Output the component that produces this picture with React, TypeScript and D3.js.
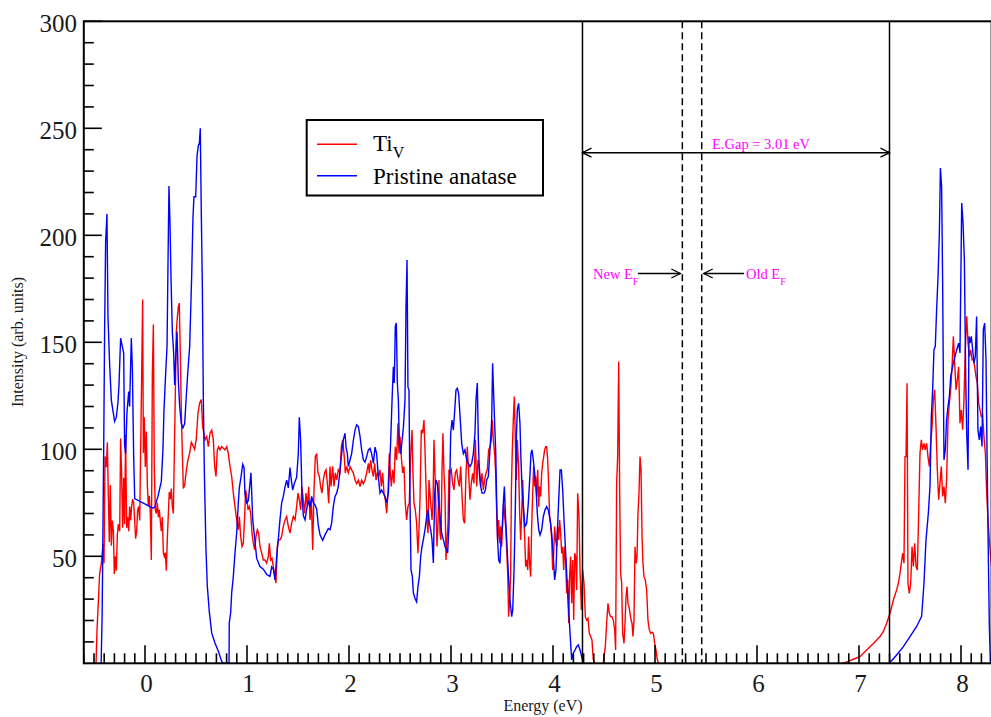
import React from "react";
import * as d3 from "d3";

// Density of states: Ti vacancy (Ti_V) vs. pristine anatase, energy in eV
type Pt = [number, number];

const tiVValence: Pt[] = [
  [-0.48, 0], [-0.471, 15], [-0.458, 28], [-0.445, 41.7], [-0.428, 46.7], [-0.412, 55.8], [-0.402, 46.7],
  [-0.392, 96.7], [-0.379, 91.7], [-0.369, 103.3], [-0.36, 80], [-0.35, 56.7], [-0.34, 83.3], [-0.33, 55],
  [-0.32, 66.7], [-0.31, 61.7], [-0.301, 41.7], [-0.291, 50], [-0.281, 43.3], [-0.271, 60], [-0.262, 65],
  [-0.248, 61.7], [-0.239, 105], [-0.229, 88.3], [-0.219, 63.3], [-0.209, 86.7], [-0.2, 65], [-0.19, 106.7],
  [-0.18, 63.3], [-0.17, 68.3], [-0.16, 61.7], [-0.15, 73.3], [-0.141, 66.7], [-0.131, 73.3], [-0.121, 76.7],
  [-0.111, 75], [-0.101, 66.7], [-0.092, 58.3], [-0.082, 61.7], [-0.072, 71.7], [-0.062, 73.3], [-0.052, 66.7],
  [-0.043, 98.3], [-0.033, 133.3], [-0.023, 170], [-0.016, 98.3], [-0.007, 115], [0.003, 91.7], [0.013, 108.3],
  [0.023, 83.3], [0.033, 73.3], [0.042, 78.3], [0.052, 70], [0.062, 48.3], [0.072, 135], [0.082, 158.3],
  [0.091, 91.7], [0.101, 71.7], [0.111, 70], [0.121, 75], [0.131, 68.3], [0.14, 71.7], [0.15, 66.7],
  [0.16, 61.7], [0.17, 68.3], [0.18, 51.7], [0.189, 50], [0.199, 51.7], [0.209, 43.3], [0.219, 58.3],
  [0.229, 70], [0.238, 80], [0.248, 76.7], [0.258, 81.7], [0.268, 73.3], [0.278, 70], [0.287, 96.7],
  [0.297, 125], [0.307, 155], [0.317, 161.7], [0.327, 166.7], [0.336, 168.3], [0.346, 145], [0.356, 118.3],
  [0.366, 98.3], [0.376, 81.7], [0.389, 83.3], [0.405, 90], [0.421, 95], [0.438, 98.3], [0.454, 103.3],
  [0.47, 101.7], [0.487, 100], [0.503, 105], [0.519, 116.7], [0.536, 121.7], [0.552, 123.3], [0.565, 110.6],
  [0.578, 107.5], [0.588, 104.4], [0.605, 106], [0.621, 101.2], [0.637, 107.5], [0.654, 109], [0.67, 104.4],
  [0.683, 92], [0.696, 87.3], [0.709, 99.7], [0.722, 101.2], [0.735, 99.7], [0.752, 101.2], [0.768, 100.5],
  [0.784, 99.7], [0.801, 101.2], [0.817, 98], [0.833, 92], [0.85, 87.3], [0.866, 79.5], [0.882, 73.3],
  [0.899, 67], [0.915, 62.4], [0.925, 68.6], [0.938, 59.3], [0.951, 54.6], [0.964, 56.1], [0.977, 68.6],
  [0.987, 81], [0.997, 78], [1.01, 71.7], [1.023, 73.3], [1.036, 70.1], [1.049, 60.8], [1.062, 56.1],
  [1.075, 53], [1.088, 59.3], [1.101, 62.4], [1.114, 60.8], [1.127, 54.6], [1.144, 51.5], [1.16, 48.3],
  [1.176, 48.3], [1.193, 46.8], [1.209, 49.9], [1.219, 56.1], [1.232, 48.3], [1.245, 49], [1.258, 45.2],
  [1.275, 40.6], [1.284, 37.5], [1.297, 54.6], [1.31, 57.7], [1.324, 57.7], [1.34, 59.3], [1.356, 64],
  [1.373, 67], [1.389, 68.6], [1.405, 64], [1.422, 60.8], [1.438, 65.5], [1.454, 68.6], [1.471, 67],
  [1.487, 73.3], [1.5, 79.5], [1.513, 76.4], [1.526, 71.7], [1.539, 82.5], [1.552, 76.4], [1.565, 70.1],
  [1.578, 79.5], [1.591, 73.3], [1.605, 82.5], [1.618, 67], [1.631, 76.4], [1.644, 53], [1.657, 81],
  [1.67, 96.6], [1.683, 98], [1.696, 89], [1.709, 87.3], [1.722, 82.5], [1.735, 79.5], [1.748, 85.6],
  [1.761, 89], [1.775, 90.4], [1.788, 84], [1.801, 74.8], [1.814, 92], [1.824, 82.6], [1.84, 92],
  [1.853, 82.6], [1.866, 89], [1.879, 85.6], [1.895, 90.4], [1.912, 89], [1.925, 101.2], [1.938, 104.4],
  [1.951, 98], [1.964, 89], [1.977, 92], [1.993, 89], [2.01, 92], [2.026, 90.4], [2.042, 89],
  [2.059, 85.6], [2.075, 84], [2.092, 85.6], [2.108, 82.6], [2.124, 85.6], [2.141, 84], [2.157, 85.6],
  [2.173, 89], [2.19, 93.4], [2.199, 89], [2.212, 95], [2.225, 90.4], [2.239, 87.3], [2.252, 93.4],
  [2.265, 85.6], [2.278, 89], [2.291, 87.3], [2.304, 90.4], [2.317, 82.6], [2.33, 89], [2.343, 79.5],
  [2.356, 76.4], [2.369, 70.1], [2.382, 79.5], [2.395, 98], [2.405, 89], [2.415, 82.6], [2.428, 90.4],
  [2.441, 84], [2.454, 101.2], [2.467, 95], [2.48, 112.2], [2.49, 98], [2.5, 106], [2.513, 96.4],
  [2.526, 89], [2.539, 92], [2.552, 74.8], [2.565, 67], [2.578, 73.2], [2.591, 74.8], [2.604, 96.4],
  [2.618, 109], [2.627, 89], [2.637, 74.8], [2.65, 71.7], [2.663, 65.5], [2.676, 51.4], [2.686, 62.4],
  [2.696, 76.4], [2.709, 109], [2.722, 107.5], [2.735, 113.7], [2.745, 99.7], [2.755, 82.6], [2.765, 65.5],
  [2.775, 60.8], [2.784, 85.7], [2.794, 79.5], [2.804, 73.2], [2.814, 67], [2.824, 76.4], [2.833, 104.4],
  [2.843, 89], [2.853, 70.1], [2.863, 54.6], [2.873, 65.5], [2.882, 85.7], [2.892, 60.8], [2.902, 57.7],
  [2.912, 90.4], [2.921, 107.5], [2.931, 89], [2.941, 79.5], [2.951, 48.3], [2.961, 57.7], [2.971, 65.5],
  [2.98, 90.4], [2.99, 89], [3.003, 90.4], [3.016, 84], [3.029, 81], [3.042, 89], [3.056, 90.4],
  [3.069, 85.7], [3.082, 82.6], [3.095, 92], [3.108, 78], [3.121, 67], [3.134, 65.4], [3.147, 88.8],
  [3.16, 101.2], [3.173, 88.8], [3.186, 76.4], [3.199, 84.1], [3.212, 88.8], [3.225, 84.1], [3.239, 104.4],
  [3.252, 82.6], [3.265, 95], [3.278, 91.9], [3.291, 82.6], [3.304, 88.8], [3.317, 81], [3.33, 85.7],
  [3.343, 88.8], [3.356, 90.4], [3.369, 99.7], [3.382, 101.2], [3.395, 104.4], [3.405, 113.8], [3.415, 104.4],
  [3.428, 98], [3.438, 88.8], [3.448, 70.1], [3.457, 57.6], [3.467, 67], [3.477, 56.1], [3.487, 63.9],
  [3.497, 54.6], [3.506, 65.4], [3.516, 74.8], [3.526, 68.5], [3.536, 63.9], [3.546, 53], [3.556, 42.1],
  [3.565, 21.8], [3.575, 29.6], [3.585, 42.1], [3.592, 81], [3.601, 99.7], [3.611, 113.8], [3.621, 124.7],
  [3.631, 104.4], [3.641, 85.7], [3.65, 104.4], [3.663, 91.9], [3.673, 70.1], [3.683, 57.6], [3.693, 70.1],
  [3.703, 85.7], [3.712, 70.1], [3.722, 59.2], [3.732, 45.2], [3.742, 48.3], [3.752, 43.6], [3.761, 59.2],
  [3.771, 46.7], [3.781, 40.5], [3.791, 63.9], [3.8, 77.9], [3.81, 91.9], [3.82, 82.6], [3.83, 87.3],
  [3.84, 77.9], [3.85, 90.4], [3.86, 73.2], [3.869, 82.6], [3.879, 77.9], [3.889, 88.8], [3.899, 93.5],
  [3.909, 96.6], [3.918, 99.7], [3.928, 101.2], [3.938, 101.2], [3.948, 95], [3.958, 82.6], [3.967, 68.5],
  [3.977, 65.4], [3.987, 57.6], [3.997, 43.6], [4.007, 51.4], [4.016, 63.9], [4.026, 57.6], [4.036, 54.5],
  [4.046, 63.9], [4.056, 57.6], [4.065, 67], [4.075, 60.8], [4.085, 51.4], [4.095, 54.5], [4.105, 43.6],
  [4.114, 54.5], [4.124, 48.3], [4.134, 32.7], [4.144, 39], [4.154, 18.7], [4.163, 40.5], [4.173, 49.9],
  [4.183, 28.1], [4.193, 48.3], [4.203, 20.2], [4.212, 51.4], [4.222, 49.9], [4.232, 34.3], [4.242, 79.5],
  [4.255, 68.5], [4.265, 43.6], [4.278, 24.9], [4.291, 43.6], [4.304, 37.4], [4.317, 21.8], [4.33, 20.2],
  [4.343, 21], [4.356, 14], [4.369, 12.5], [4.382, 10.9], [4.395, 1.6], [4.412, 0],
];

// Defect states inside the gap
const tiVDefect: Pt[] = [
  [4.493, 0], [4.5, 3.1], [4.513, 7.8], [4.526, 18.7], [4.539, 28], [4.552, 23.4], [4.565, 21.8],
  [4.578, 21.8], [4.591, 20.2], [4.605, 15.6], [4.614, 6.2], [4.624, 84.1], [4.634, 96.6], [4.644, 141],
  [4.654, 77.9], [4.663, 42.1], [4.673, 37.4], [4.683, 14], [4.696, 9.3], [4.706, 18.7], [4.716, 31.2],
  [4.726, 35.8], [4.735, 28], [4.745, 26.5], [4.755, 23.4], [4.765, 20.2], [4.775, 18.7], [4.784, 12.5],
  [4.794, 20.2], [4.804, 54.5], [4.814, 46.7], [4.824, 49.9], [4.833, 70.1], [4.843, 79.5], [4.853, 96.6],
  [4.863, 90.4], [4.873, 59.2], [4.882, 46.7], [4.892, 40.5], [4.905, 38.9], [4.918, 34.3], [4.931, 20.2],
  [4.944, 15.6], [4.958, 14], [4.971, 14.5], [4.984, 14], [4.997, 9.3], [5.01, 6.2], [5.023, 1.6], [5.036, 0],
];

const tiVConduction: Pt[] = [
  [6.84, 0], [6.9, 1], [6.95, 2], [7.01, 3.1], [7.075, 6.2], [7.141, 9.3], [7.206, 12.5], [7.239, 14.9],
  [7.271, 18.7], [7.304, 23.4], [7.337, 29.6], [7.369, 34.3], [7.386, 37.4], [7.402, 42.1], [7.415, 46.8],
  [7.428, 51.4], [7.441, 46.8], [7.451, 96.6], [7.461, 96.6], [7.471, 130.9], [7.48, 37.4], [7.493, 32.7],
  [7.507, 37.4], [7.52, 54.5], [7.533, 45.2], [7.546, 56.1], [7.559, 45.2], [7.572, 43.6], [7.585, 70.1],
  [7.598, 98.1], [7.611, 104.4], [7.624, 99.7], [7.637, 102.8], [7.65, 99.7], [7.663, 102.8], [7.676, 96.6],
  [7.69, 92], [7.703, 102.8], [7.716, 110.6], [7.729, 123], [7.742, 127.8], [7.755, 110.6], [7.768, 90.4],
  [7.781, 76.4], [7.794, 84.1], [7.807, 92], [7.82, 78], [7.833, 82.6], [7.846, 74.8], [7.859, 85.7],
  [7.873, 113.8], [7.886, 121.5], [7.899, 127.8], [7.912, 138.6], [7.925, 152.8], [7.938, 140.3],
  [7.951, 127.8], [7.964, 132.4], [7.977, 138.6], [7.99, 112.2], [8.003, 118.4], [8.016, 109.1],
  [8.029, 123], [8.042, 146.5], [8.056, 162.1], [8.069, 149.6], [8.082, 143.4], [8.095, 146.5],
  [8.108, 141.8], [8.121, 142], [8.134, 138.6], [8.147, 134], [8.16, 130.9], [8.173, 121.5], [8.186, 118.4],
  [8.199, 115.3], [8.212, 116], [8.225, 106], [8.239, 98.1], [8.252, 79.4], [8.265, 66.9], [8.278, 57.6],
  [8.288, 51.4], [8.3, 45],
];

const anataseValence: Pt[] = [
  [-0.43, 0], [-0.42, 23], [-0.405, 100], [-0.396, 155], [-0.386, 197], [-0.373, 210], [-0.363, 162],
  [-0.347, 140], [-0.33, 123], [-0.314, 118], [-0.298, 113], [-0.281, 115], [-0.265, 122], [-0.255, 130],
  [-0.239, 152], [-0.222, 148], [-0.209, 145], [-0.2, 102], [-0.19, 98], [-0.177, 117], [-0.16, 127],
  [-0.151, 120], [-0.134, 152], [-0.124, 138], [-0.111, 97], [-0.101, 77], [0.078, 72.5], [0.095, 73],
  [0.127, 78], [0.16, 85], [0.176, 100], [0.186, 118], [0.202, 135], [0.216, 148], [0.225, 185],
  [0.235, 223], [0.245, 206], [0.255, 180], [0.268, 155], [0.281, 145], [0.291, 130], [0.3, 142],
  [0.314, 155], [0.327, 132], [0.34, 120], [0.356, 112], [0.372, 110], [0.389, 112], [0.405, 125],
  [0.421, 137], [0.438, 148], [0.448, 165], [0.457, 180], [0.47, 208], [0.48, 218], [0.497, 218],
  [0.51, 237], [0.523, 242], [0.533, 243], [0.542, 250], [0.552, 210], [0.562, 177], [0.572, 123],
  [0.582, 89], [0.598, 53], [0.611, 36], [0.631, 23.8], [0.654, 14.2], [0.686, 9.5], [0.719, 5.6],
  [0.752, 0.9], [0.768, 0], [0.824, 0], [0.826, 18.7], [0.84, 23.8], [0.85, 33], [0.866, 40.6],
  [0.882, 51.6], [0.899, 61], [0.915, 75], [0.925, 82], [0.941, 87], [0.958, 93], [0.971, 91.5],
  [0.98, 79], [0.997, 75], [1.013, 76], [1.029, 84], [1.039, 89], [1.056, 67], [1.072, 60], [1.095, 49],
  [1.127, 45.2], [1.16, 44], [1.193, 41.5], [1.225, 40.6], [1.242, 45], [1.258, 44], [1.275, 39],
  [1.291, 50], [1.307, 58], [1.324, 67.5], [1.34, 75], [1.356, 78], [1.373, 82.5], [1.389, 85.6],
  [1.405, 82], [1.422, 91.5], [1.431, 87], [1.448, 81], [1.464, 84], [1.487, 87], [1.503, 98],
  [1.513, 115], [1.526, 104], [1.539, 79], [1.552, 69], [1.569, 67], [1.585, 72], [1.601, 76],
  [1.618, 73], [1.634, 78], [1.65, 75], [1.667, 74], [1.683, 72], [1.699, 64.5], [1.716, 60],
  [1.742, 57.5], [1.765, 60], [1.797, 63], [1.814, 62.4], [1.83, 65.5], [1.846, 73.2], [1.863, 78],
  [1.879, 79.5], [1.895, 82.6], [1.912, 90.4], [1.928, 98], [1.944, 104.4], [1.961, 107.5], [1.971, 101],
  [1.984, 98], [1.993, 92], [2.01, 95], [2.026, 98], [2.042, 104], [2.059, 109], [2.075, 111.4],
  [2.092, 110.6], [2.108, 106], [2.124, 99.7], [2.141, 95], [2.157, 94], [2.173, 96.6], [2.19, 99.7],
  [2.206, 100.5], [2.222, 98], [2.239, 93.4], [2.255, 101], [2.271, 98], [2.288, 87], [2.304, 79.5],
  [2.32, 81], [2.337, 79.5], [2.353, 78], [2.369, 75], [2.386, 79.5], [2.395, 90], [2.408, 102.8],
  [2.422, 123], [2.435, 138.6], [2.444, 131], [2.454, 157.4], [2.464, 159], [2.474, 131], [2.484, 123],
  [2.493, 104], [2.507, 98], [2.52, 104], [2.533, 110], [2.549, 123], [2.559, 166.7], [2.569, 188.5],
  [2.578, 129], [2.588, 127.7], [2.598, 76], [2.608, 43.6], [2.621, 40.6], [2.631, 33], [2.647, 30.3],
  [2.663, 28.7], [2.676, 35.8], [2.69, 40.6], [2.703, 49.9], [2.716, 54.6], [2.729, 57.8], [2.745, 62.4],
  [2.761, 68.6], [2.775, 71.7], [2.788, 65.5], [2.801, 62.4], [2.814, 57.8], [2.827, 46.9], [2.84, 79.5],
  [2.853, 85.7], [2.866, 84], [2.879, 75], [2.892, 68.6], [2.908, 60.9], [2.925, 57.8], [2.941, 54.6],
  [2.958, 53], [2.967, 51.5], [2.98, 64], [2.997, 107.5], [3.01, 113.7], [3.023, 109], [3.039, 120],
  [3.049, 127.7], [3.062, 128.5], [3.075, 126], [3.105, 102.8], [3.121, 98], [3.137, 99.7], [3.154, 95],
  [3.17, 93.5], [3.186, 91.9], [3.203, 93.5], [3.219, 98], [3.235, 107.5], [3.245, 123], [3.258, 131],
  [3.268, 104.4], [3.278, 88.8], [3.291, 82.6], [3.304, 79.5], [3.324, 79.5], [3.337, 81], [3.35, 85.7],
  [3.366, 87.3], [3.382, 99.7], [3.399, 113.7], [3.408, 140.2], [3.418, 126], [3.428, 112], [3.438, 99.7],
  [3.448, 74.8], [3.457, 57.6], [3.467, 48.3], [3.48, 46.7], [3.49, 57.6], [3.503, 63.9], [3.513, 74.8],
  [3.523, 82.6], [3.533, 70.1], [3.546, 57.6], [3.562, 42.1], [3.578, 29.6], [3.595, 21.8], [3.605, 24.9],
  [3.618, 43.6], [3.631, 73.2], [3.641, 105.9], [3.65, 118.4], [3.663, 121.5], [3.676, 112.2], [3.686, 95],
  [3.696, 82.6], [3.709, 73.2], [3.725, 63.9], [3.742, 65.4], [3.758, 74.8], [3.775, 88.8], [3.784, 98],
  [3.794, 99.7], [3.807, 95], [3.82, 88.8], [3.833, 82.6], [3.846, 70.1], [3.86, 62.4], [3.873, 60],
  [3.889, 62.4], [3.905, 68.5], [3.922, 71.7], [3.938, 73.2], [3.954, 71.7], [3.971, 67], [3.987, 60.8],
  [4.003, 49.9], [4.016, 39], [4.029, 43.6], [4.042, 60.8], [4.056, 76.4], [4.069, 90.4], [4.082, 90.4],
  [4.095, 81], [4.108, 67], [4.121, 54.6], [4.134, 42.1], [4.15, 28.1], [4.167, 14.1], [4.183, 1.6],
  [4.199, 4.7], [4.216, 6.2], [4.232, 7.8], [4.248, 8.6], [4.265, 6.2], [4.281, 3.1], [4.297, 0],
];

const anataseConduction: Pt[] = [
  [7.297, 0], [7.369, 3.9], [7.435, 7.8], [7.5, 12.5], [7.565, 17.2], [7.614, 21.9], [7.637, 37.4],
  [7.657, 57.7], [7.68, 70.2], [7.696, 82.6], [7.709, 115.3], [7.722, 127.8], [7.735, 146.5], [7.748, 148.1],
  [7.761, 165.2], [7.775, 180.8], [7.788, 201], [7.798, 231.4], [7.81, 222.8], [7.82, 177.7], [7.833, 95.1],
  [7.846, 99.8], [7.859, 113.8], [7.873, 120.1], [7.886, 124.7], [7.899, 134], [7.912, 137.2], [7.925, 140.3],
  [7.941, 143.4], [7.958, 146.5], [7.977, 149.6], [7.99, 145], [8.007, 215.1], [8.02, 205.7], [8.033, 188.6],
  [8.046, 134], [8.056, 107.5], [8.069, 90.4], [8.078, 152.8], [8.088, 149.6], [8.101, 152.8], [8.114, 146.5],
  [8.127, 140.3], [8.14, 143.4], [8.153, 162.1], [8.166, 109.1], [8.18, 104.4], [8.193, 110.6], [8.206, 101.3],
  [8.219, 156], [8.232, 159], [8.245, 141.8], [8.255, 99.8], [8.268, 49.9], [8.278, 17.2], [8.288, 0],
];

const xTickValues = [0, 1, 2, 3, 4, 5, 6, 7, 8];
const yTickValues = [50, 100, 150, 200, 250, 300];
const seriesNames = ["Ti", "Pristine anatase"];

// Band-edge annotations (eV)
const gapCenter = 5.794;
const gapWidth = 3.01;
const newFermi = 5.268;
const oldFermi = 5.458;

const RED = "#ff0000";
const BLUE = "#0000ff";
const MAGENTA = "#ff00ff";
const SERIF = "'Liberation Serif', 'Times New Roman', serif";

export default function App() {
  const width = 991;
  const height = 717;
  const x = d3.scaleLinear().domain([-0.6, 8.3]).range([83.8, 991.6]);
  const y = d3.scaleLinear().domain([0, 300]).range([663.3, 21.3]);
  const [x0, x1] = x.range();
  const [yb, yt] = y.range();

  const line = d3
    .line<Pt>()
    .x((d) => x(d[0]))
    .y((d) => y(d[1]));

  const xMinor = d3.range(-6, 84).map((i) => i / 10).filter((v) => Math.abs(v - Math.round(v)) > 1e-6);
  const yMinor = d3.range(1, 30).map((i) => i * 10).filter((v) => v % 50 !== 0);

  const gapLo = gapCenter - gapWidth / 2;
  const gapHi = gapCenter + gapWidth / 2;
  const gapY = 152.7;
  const fermiY = 273.5;

  const head = (tx: number, ty: number, dir: 1 | -1) =>
    `M${tx - dir * 9},${ty - 4.5}L${tx},${ty}L${tx - dir * 9},${ty + 4.5}`;

  return (
    <svg
      width={width}
      height={height}
      viewBox={`0 0 ${width} ${height}`}
      style={{ position: "absolute", left: 0, top: 0, background: "#fff" }}
    >
      <defs>
        <clipPath id="plot-area">
          <rect x={x0} y={yt} width={x1 - x0} height={yb - yt} />
        </clipPath>
      </defs>
      <rect x={0} y={0} width={width} height={height} fill="#fff" />

      <g clipPath="url(#plot-area)" fill="none" strokeWidth={1.4} strokeLinejoin="miter">
        {[tiVValence, tiVDefect, tiVConduction].map((s, i) => (
          <path key={`r${i}`} d={line(s) || ""} stroke={RED} />
        ))}
        {[anataseValence, anataseConduction].map((s, i) => (
          <path key={`b${i}`} d={line(s) || ""} stroke={BLUE} />
        ))}
      </g>

      {/* band edges and Fermi levels */}
      <g stroke="#000" fill="none">
        <line x1={x(gapLo)} x2={x(gapLo)} y1={yt} y2={yb} strokeWidth={1.5} />
        <line x1={x(gapHi)} x2={x(gapHi)} y1={yt} y2={yb} strokeWidth={1.5} />
        <line x1={x(newFermi)} x2={x(newFermi)} y1={yt} y2={yb} strokeWidth={1.5} strokeDasharray="7,4" />
        <line x1={x(oldFermi)} x2={x(oldFermi)} y1={yt} y2={yb} strokeWidth={1.5} strokeDasharray="7,4" />
        <line x1={x(gapLo)} x2={x(gapHi)} y1={gapY} y2={gapY} strokeWidth={1.5} />
        <path d={head(x(gapLo), gapY, -1)} strokeWidth={1.3} />
        <path d={head(x(gapHi), gapY, 1)} strokeWidth={1.3} />
        <line x1={x(4.833)} x2={x(newFermi) - 2} y1={fermiY} y2={fermiY} strokeWidth={1.5} />
        <path d={head(x(newFermi) - 2, fermiY, 1)} strokeWidth={1.3} />
        <line x1={x(5.873)} x2={x(oldFermi) + 2} y1={fermiY} y2={fermiY} strokeWidth={1.5} />
        <path d={head(x(oldFermi) + 2, fermiY, -1)} strokeWidth={1.3} />
      </g>
      <circle cx={x(gapLo) + 1} cy={gapY} r={1.6} fill="#000" />
      <circle cx={x(gapHi) - 1} cy={gapY} r={1.6} fill="#000" />

      <g fill={MAGENTA} fontFamily={SERIF}>
        <text x={x(5.559)} y={149} fontSize={14.5}>E.Gap = 3.01 eV</text>
        <text x={x(4.392)} y={279} fontSize={14.5}>
          New E<tspan fontSize={10} dy={6}>F</tspan>
        </text>
        <text x={x(5.892)} y={279} fontSize={14.5}>
          Old E<tspan fontSize={10} dy={6}>F</tspan>
        </text>
      </g>

      {/* frame */}
      <g stroke="#000" fill="none" strokeWidth={2}>
        <rect x={x0} y={yt} width={x1 - x0} height={yb - yt} />
      </g>

      {/* ticks */}
      <g stroke="#000" strokeWidth={1.6}>
        {xTickValues.map((v) => (
          <line key={`xM${v}`} x1={x(v)} x2={x(v)} y1={yb} y2={yb - 18} />
        ))}
        {xMinor.map((v) => (
          <line key={`xm${v}`} x1={x(v)} x2={x(v)} y1={yb} y2={yb - 10} />
        ))}
        {yTickValues.map((v) => (
          <line key={`yM${v}`} x1={x0} x2={x0 + 18} y1={y(v)} y2={y(v)} />
        ))}
        {yMinor.map((v) => (
          <line key={`ym${v}`} x1={x0} x2={x0 + 10} y1={y(v)} y2={y(v)} />
        ))}
      </g>

      <g fontFamily={SERIF} fill="#1a1a1a" fontSize={25}>
        {xTickValues.map((v) => (
          <text key={`xl${v}`} x={x(v) + 1.5} y={692} textAnchor="middle">
            {v}
          </text>
        ))}
        {yTickValues.map((v) => (
          <text key={`yl${v}`} x={77} y={y(v) + 10.8} textAnchor="end">
            {v}
          </text>
        ))}
      </g>

      <text x={543} y={711} fontFamily={SERIF} fontSize={16} textAnchor="middle" fill="#1a1a1a">
        Energy (eV)
      </text>
      <text
        transform={`translate(23,342) rotate(-90)`}
        fontFamily={SERIF}
        fontSize={16}
        textAnchor="middle"
        fill="#1a1a1a"
      >
        Intensity (arb. units)
      </text>

      {/* legend */}
      <g>
        <rect x={306.7} y={120} width={236.3} height={75.5} fill="#fff" stroke="#000" strokeWidth={2} />
        <line x1={317} x2={357} y1={144.3} y2={144.3} stroke={RED} strokeWidth={1.5} />
        <line x1={317} x2={357} y1={175.7} y2={175.7} stroke={BLUE} strokeWidth={1.5} />
        <g fontFamily={SERIF} fill="#000" fontSize={23}>
          <text x={373} y={151}>
            {seriesNames[0]}
            <tspan fontSize={16} dy={7}>V</tspan>
          </text>
          <text x={373} y={184}>{seriesNames[1]}</text>
        </g>
      </g>
    </svg>
  );
}
